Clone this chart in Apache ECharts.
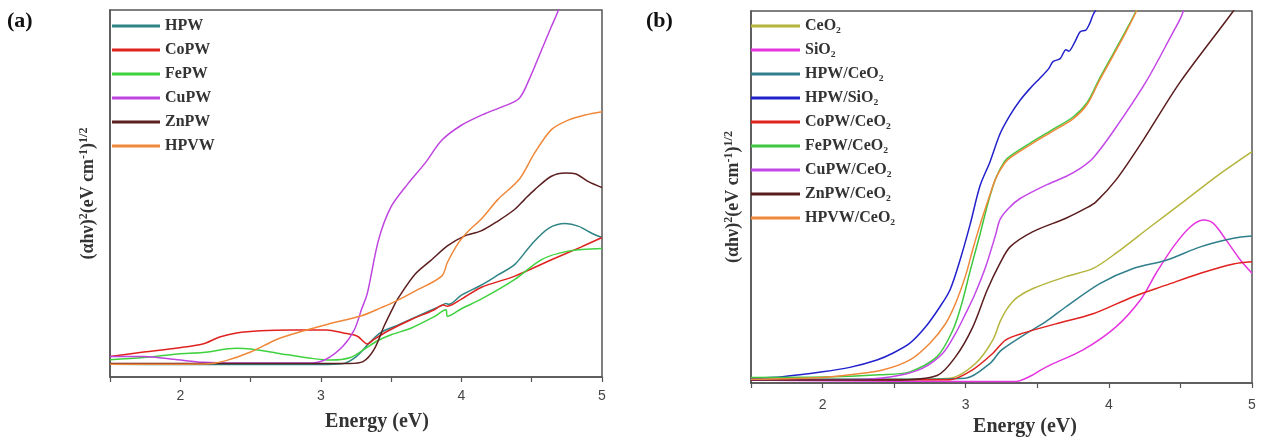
<!DOCTYPE html>
<html><head><meta charset="utf-8">
<script src="https://cdn.jsdelivr.net/npm/echarts@6/dist/echarts.min.js"></script>
<style>html,body{margin:0;padding:0;background:#fff}#c{width:1262px;height:441px}</style>
</head><body><div id="c"></div>
<script>
// ---------- DATA: panel (a) ----------
const namesA = ['HPW','CoPW','FePW','CuPW','ZnPW','HPVW'];
const hpwA = [[1.5,3.5],[2.0,3.4],[2.5,3.4],[3.0,3.4],[3.15,3.6],[3.25,5.5],[3.35,9.5],[3.43,12.2],[3.55,14.2],[3.7,16.8],[3.85,19.3],[3.89,20.0],[3.91,19.8],[4.0,22.3],[4.14,25],[4.26,27.8],[4.38,30.7],[4.5,36.2],[4.62,40.5],[4.74,41.8],[4.83,41.1],[4.93,39.1],[5.0,38]];
const coPWA = [[1.5,5.6],[1.74,6.8],[1.98,7.9],[2.16,9],[2.28,10.9],[2.4,12],[2.57,12.6],[2.8,12.8],[3.04,12.8],[3.16,12],[3.26,11.1],[3.33,9],[3.38,10.3],[3.48,12.6],[3.64,15.6],[3.8,18.2],[3.87,19.6],[3.9,19.3],[4.0,21.2],[4.14,24.4],[4.38,27.5],[4.62,31.6],[4.85,35.4],[5.0,38]];
const fePWA = [[1.5,4.7],[1.74,5.3],[1.98,6.3],[2.16,6.7],[2.4,7.8],[2.5,7.6],[2.69,6.5],[2.93,5.1],[3.07,4.6],[3.21,5.3],[3.31,7.6],[3.4,9.8],[3.5,11.5],[3.64,13.3],[3.8,16.3],[3.89,18.3],[3.9,16.5],[4.0,18.6],[4.14,21.2],[4.38,26.6],[4.57,32],[4.76,34.3],[5.0,35]];
const cuPWA = [[1.5,5.6],[1.74,5.6],[1.98,4.7],[2.16,4],[2.4,3.8],[2.93,3.8],[3.04,4.9],[3.16,8.5],[3.24,13],[3.29,18.5],[3.33,22.7],[3.41,37.3],[3.5,46.4],[3.62,52.7],[3.74,58.2],[3.86,64.5],[4.0,68.6],[4.17,71.8],[4.29,73.6],[4.41,75.9],[4.48,80.9],[4.57,89.1],[4.64,95.5],[4.69,100],[4.75,108]];
const znPWA = [[1.5,3.7],[2.0,3.7],[2.5,3.7],[3.0,3.7],[3.2,3.7],[3.3,4.2],[3.38,7.6],[3.45,13.9],[3.52,19.4],[3.55,21.5],[3.67,28],[3.79,32],[3.9,35.7],[4.02,38.4],[4.14,39.8],[4.26,42.5],[4.38,45.7],[4.45,48.4],[4.52,51],[4.64,54.7],[4.74,55.6],[4.81,55.4],[4.9,53.3],[5.0,51.6]];
const hpvwA = [[1.5,3.5],[2.0,3.5],[2.2,3.6],[2.32,4.4],[2.5,6.8],[2.69,10.3],[2.88,12.6],[3.05,14.4],[3.29,16.7],[3.43,18.9],[3.52,20.4],[3.67,23.4],[3.86,27.5],[3.9,31.2],[3.98,36.6],[4.05,39.8],[4.14,43],[4.26,48.4],[4.41,53.8],[4.52,61],[4.64,67.4],[4.76,70],[4.88,71.4],[5.0,72.3]];

// ---------- DATA: panel (b) ----------
const namesB = ['CeO₂','SiO₂','HPW/CeO₂','HPW/SiO₂','CoPW/CeO₂','FePW/CeO₂','CuPW/CeO₂','ZnPW/CeO₂','HPVW/CeO₂'];
const ceo2B = [[1.5,1.0],[2.5,1.0],[2.89,1.3],[3.07,5.3],[3.19,11.6],[3.24,16.5],[3.29,20],[3.36,23],[3.47,25.4],[3.7,28.6],[3.89,30.8],[4.05,34.9],[4.29,42],[4.52,48.7],[4.75,55.5],[5.0,62.2]];
const sio2B = [[1.5,0.8],[2.0,0.6],[2.5,0.5],[3.0,0.4],[3.35,0.4],[3.45,1.8],[3.52,3.4],[3.6,5],[3.82,8.9],[4.05,15.1],[4.22,22.3],[4.33,29.5],[4.45,36.6],[4.57,42],[4.66,43.8],[4.73,42.9],[4.82,38.4],[4.92,33],[5.0,29.5]];
const hpwCeB = [[1.5,1.0],[2.5,1.0],[3.0,1.3],[3.17,5.3],[3.24,8.5],[3.31,10.5],[3.43,13.5],[3.56,16.5],[3.7,20.5],[3.94,26.8],[4.17,30.8],[4.4,33],[4.64,36.6],[4.87,38.9],[5.0,39.5]];
const hpwSiB = [[1.5,1.3],[1.72,1.7],[2.0,3.0],[2.19,4.2],[2.38,6.2],[2.49,8],[2.61,10.7],[2.72,15.1],[2.82,20.5],[2.89,25],[2.96,33],[3.03,42.5],[3.1,53],[3.17,59.5],[3.24,67],[3.31,72],[3.38,76],[3.45,79.2],[3.52,82],[3.58,84.5],[3.61,86.4],[3.66,87.2],[3.7,89.6],[3.72,89.2],[3.76,91.5],[3.8,94.4],[3.84,94.9],[3.87,97],[3.89,99],[3.92,101]];
const coPWCeB = [[1.5,0.9],[2.5,0.9],[2.89,0.9],[3.05,3.6],[3.19,8],[3.28,11.6],[3.4,13.4],[3.63,15.9],[3.89,18.6],[4.17,23.2],[4.4,26.3],[4.64,29.5],[4.87,32],[5.0,32.6]];
const fePWCeB = [[1.5,1.5],[2.0,1.6],[2.4,2.2],[2.61,3],[2.8,7.1],[2.91,14.2],[2.97,21],[3.03,30],[3.1,40],[3.16,49],[3.21,55],[3.27,59.5],[3.31,61],[3.45,64.5],[3.6,68],[3.75,71.5],[3.85,75.5],[3.93,81.5],[4.03,88.5],[4.12,94.8],[4.19,100],[4.22,103]];
const cuPWCeB = [[1.5,0.8],[2.3,1.0],[2.53,2],[2.7,4],[2.84,8],[2.93,13.4],[3.0,18.7],[3.06,23.5],[3.14,31.3],[3.21,40],[3.24,44],[3.3,47],[3.38,49.6],[3.56,53.2],[3.7,55.5],[3.8,57.7],[3.89,60.5],[4.03,67.6],[4.26,81],[4.45,94.4],[4.5,98],[4.53,101]];
const znPWCeB = [[1.5,0.8],[2.5,0.8],[2.8,2],[2.93,7.1],[3.05,15.1],[3.15,25],[3.24,32.2],[3.31,36.6],[3.47,40.7],[3.7,44.3],[3.84,47],[3.91,48.7],[4.05,54.6],[4.24,65.3],[4.5,81],[4.87,100],[4.9,102]];
const hpvwCeB = [[1.5,1.0],[2.0,1.5],[2.19,2.2],[2.42,3.5],[2.61,6.2],[2.75,10.7],[2.86,16],[2.93,21.5],[3.0,29],[3.05,36],[3.1,42.5],[3.16,49.5],[3.21,55],[3.27,59],[3.31,60.5],[3.45,64],[3.6,67.5],[3.75,71],[3.85,75],[3.93,81],[4.03,88],[4.12,94.4],[4.19,99.8],[4.22,103]];

const xTicks = [2,3,4,5];

const dataA = [hpwA, coPWA, fePWA, cuPWA, znPWA, hpvwA];
const colorsA = ['#2f8585','#e0221f','#3fd23f','#bf45e0','#5c1e1e','#f0883a'];
const dataB = [ceo2B, sio2B, hpwCeB, hpwSiB, coPWCeB, fePWCeB, cuPWCeB, znPWCeB, hpvwCeB];
const colorsB = ['#b5b43c','#e535e0','#307f8c','#2222cc','#e0221f','#3fc83f','#c448e8','#5a1c1c','#f0883a'];

const serif = 'Liberation Serif, "Times New Roman", serif';
const chart = echarts.init(document.getElementById('c'));

function xAxis(gi, margin){
  return {gridIndex: gi, type:'value', min:1.5, max:5, interval:0.5,
    axisLine:{show:true, lineStyle:{color:'#555', width:1.5}},
    axisTick:{show:true, inside:false, length:5, lineStyle:{color:'#555', width:1.2}},
    axisLabel:{margin: margin, fontSize:14, color:'#444', fontFamily:'Liberation Sans, Arial, sans-serif',
      formatter: v => xTicks.includes(v) ? String(v) : ''},
    splitLine:{show:false}};
}
const yName = '{a|(αhν)}{s|2}{a|(eV cm}{s|-1}{a|)}{s|1/2}';
function yAxis(gi, gap){
  return {gridIndex: gi, type:'value', min:0, max:100,
    axisLine:{show:true, lineStyle:{color:'#555', width:1.5}},
    axisTick:{show:false}, axisLabel:{show:false}, splitLine:{show:false},
    name: yName, nameLocation:'middle', nameRotate:90, nameGap:gap,
    nameTextStyle:{rich:{
      a:{fontFamily:serif, fontWeight:'bold', fontSize:18, color:'#333', lineHeight:21},
      s:{fontFamily:serif, fontWeight:'bold', fontSize:12, color:'#333', verticalAlign:'top', lineHeight:12}
    }}};
}
const legendBase = {orient:'vertical', padding:0, itemHeight:3, itemGap:8, icon:'rect',
  textStyle:{fontFamily:serif, fontWeight:'bold', fontSize:16, color:'#333', lineHeight:16}};

const series = [];
namesA.forEach((n,i)=>series.push({name:n, type:'line', xAxisIndex:0, yAxisIndex:0, data:dataA[i],
  smooth:0.3, showSymbol:false, symbol:'none', color:colorsA[i], lineStyle:{width:1.5, color:colorsA[i]}}));
namesB.forEach((n,i)=>series.push({name:n, type:'line', xAxisIndex:1, yAxisIndex:1, data:dataB[i],
  smooth:0.3, showSymbol:false, symbol:'none', color:colorsB[i], lineStyle:{width:1.5, color:colorsB[i]}}));

chart.setOption({
  animation:false,
  grid:[
    {left:110, top:10, width:492, height:367, show:true, borderColor:'#555', borderWidth:1.5},
    {left:751, top:11, width:501, height:372, show:true, borderColor:'#555', borderWidth:1.5}
  ],
  xAxis:[xAxis(0,12), xAxis(1,15)],
  yAxis:[yAxis(0,11), yAxis(1,7)],
  legend:[
    Object.assign({}, legendBase, {left:112, top:18, itemWidth:48, data:namesA}),
    Object.assign({}, legendBase, {left:751, top:18, itemWidth:49, data:namesB})
  ],
  graphic:[
    {type:'text', left:7, top:10, style:{text:'(a)', font:'bold 22px '+serif, fill:'#111'}},
    {type:'text', left:646, top:10, style:{text:'(b)', font:'bold 22px '+serif, fill:'#111'}},
    {type:'text', x:377, y:422, style:{text:'Energy (eV)', font:'bold 20px '+serif, fill:'#333', align:'center', verticalAlign:'middle'}},
    {type:'text', x:1025, y:427, style:{text:'Energy (eV)', font:'bold 20px '+serif, fill:'#333', align:'center', verticalAlign:'middle'}}
  ],
  series: series
});
</script></body></html>
